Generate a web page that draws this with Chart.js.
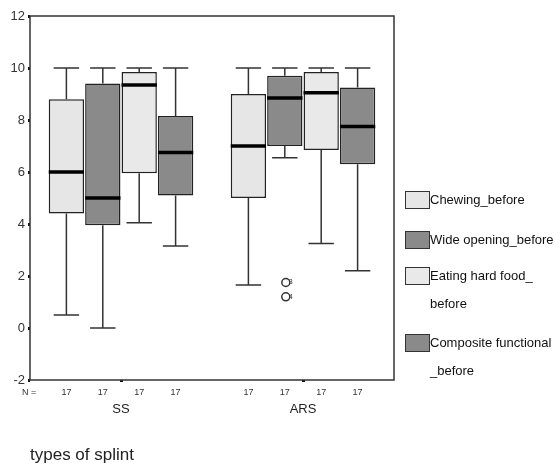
<!DOCTYPE html>
<html>
<head>
<meta charset="utf-8">
<script src="https://cdn.jsdelivr.net/npm/chart.js@4"></script>
<style>
  body { margin: 0; background: #fff; }
  #wrap { position: relative; width: 555px; height: 466px; }
  #legend { position: absolute; left: 0; top: 0; font: 13px "Liberation Sans", Arial, sans-serif; color: #111; }
  .sw { position: absolute; left: 405px; width: 23px; height: 16px; border: 1px solid #333; }
  .txt { position: absolute; left: 430px; white-space: nowrap; line-height: 14px; }
</style>
</head>
<body>
<div id="wrap">
  <canvas id="boxChart" width="555" height="466"></canvas>
  <div id="legend"></div>
</div>
<script>
// groups on the x axis
const categories = ["SS", "ARS"];
const yTicks = [-2, 0, 2, 4, 6, 8, 10, 12];

// one entry per series, first value SS, second ARS
const seriesLabels = [
  ["Chewing_before"],
  ["Wide opening_before"],
  ["Eating hard food_", "before"],
  ["Composite functional", "_before"]
];
const seriesColors = ["#e6e6e6", "#8a8a8a", "#e9e9e9", "#8a8a8a"];

const chewMin = [0.5, 1.65], chewQ1 = [4.4, 5.0], chewMed = [6.0, 7.0], chewQ3 = [8.8, 9.0], chewMax = [10, 10];
const wideMin = [0.0, 6.55], wideQ1 = [3.95, 7.0], wideMed = [5.0, 8.85], wideQ3 = [9.4, 9.7], wideMax = [10, 10];
const eatMin = [4.05, 3.25], eatQ1 = [5.95, 6.85], eatMed = [9.35, 9.05], eatQ3 = [9.85, 9.85], eatMax = [10, 10];
const compMin = [3.15, 2.2], compQ1 = [5.1, 6.3], compMed = [6.75, 7.75], compQ3 = [8.15, 9.25], compMax = [10, 10];

// outliers: [series index, group index, value, case label]
const outliers = [
  [1, 1, 1.75, "3"],
  [1, 1, 1.2, "4"]
];
const nCounts = [[17, 17], [17, 17], [17, 17], [17, 17]];

const stats = [
  { min: chewMin, q1: chewQ1, med: chewMed, q3: chewQ3, max: chewMax },
  { min: wideMin, q1: wideQ1, med: wideMed, q3: wideQ3, max: wideMax },
  { min: eatMin, q1: eatQ1, med: eatMed, q3: eatQ3, max: eatMax },
  { min: compMin, q1: compQ1, med: compMed, q3: compQ3, max: compMax }
];

const FONT = '"Liberation Sans", Arial, sans-serif';

// whiskers, medians, outliers, N row and the frame
const boxPlugin = {
  id: "boxExtras",
  afterDatasetsDraw(chart) {
    const ctx = chart.ctx;
    const y = chart.scales.y;
    const area = chart.chartArea;
    ctx.save();
    stats.forEach((s, i) => {
      const meta = chart.getDatasetMeta(i);
      meta.data.forEach((bar, j) => {
        const x = bar.x;
        const w = bar.width;
        const cap = w * 0.36;
        const yMax = y.getPixelForValue(s.max[j]);
        const yMin = y.getPixelForValue(s.min[j]);
        ctx.strokeStyle = "#333";
        ctx.lineWidth = 1.5;
        ctx.beginPath();
        ctx.moveTo(x, y.getPixelForValue(s.q3[j]));
        ctx.lineTo(x, yMax);
        ctx.moveTo(x - cap, yMax);
        ctx.lineTo(x + cap, yMax);
        ctx.moveTo(x, y.getPixelForValue(s.q1[j]));
        ctx.lineTo(x, yMin);
        ctx.moveTo(x - cap, yMin);
        ctx.lineTo(x + cap, yMin);
        ctx.stroke();
        // median
        ctx.strokeStyle = "#000";
        ctx.lineWidth = 3.5;
        ctx.beginPath();
        ctx.moveTo(x - w / 2, y.getPixelForValue(s.med[j]));
        ctx.lineTo(x + w / 2, y.getPixelForValue(s.med[j]));
        ctx.stroke();
        // N row
        ctx.fillStyle = "#333";
        ctx.font = "9px " + FONT;
        ctx.textAlign = "center";
        ctx.textBaseline = "middle";
        ctx.fillText(String(nCounts[i][j]), x, area.bottom + 13);
      });
    });
    outliers.forEach(o => {
      const bar = chart.getDatasetMeta(o[0]).data[o[1]];
      const py = y.getPixelForValue(o[2]);
      ctx.strokeStyle = "#333";
      ctx.lineWidth = 1.5;
      ctx.beginPath();
      ctx.arc(bar.x + 1, py, 4, 0, Math.PI * 2);
      ctx.stroke();
      ctx.fillStyle = "#333";
      ctx.font = "7px " + FONT;
      ctx.textAlign = "left";
      ctx.textBaseline = "middle";
      ctx.fillText(o[3], bar.x + 4, py);
    });
    ctx.fillStyle = "#333";
    ctx.font = "9px " + FONT;
    ctx.textAlign = "left";
    ctx.fillText("N =", area.left - 8, area.bottom + 13);
    // plot frame
    ctx.strokeStyle = "#333";
    ctx.lineWidth = 1.5;
    ctx.strokeRect(area.left, area.top, area.right - area.left, area.bottom - area.top);
    ctx.restore();
  }
};

const datasets = stats.map((s, i) => ({
  label: seriesLabels[i].join(""),
  data: categories.map((c, j) => [s.q1[j], s.q3[j]]),
  backgroundColor: seriesColors[i],
  borderColor: "#222",
  borderWidth: 1.5,
  borderSkipped: false,
  barPercentage: 0.97,
  categoryPercentage: 0.8
}));

new Chart(document.getElementById("boxChart"), {
  type: "bar",
  data: { labels: categories, datasets: datasets },
  options: {
    responsive: false,
    animation: false,
    layout: { padding: { top: 16, right: 161, left: 0, bottom: 0 } },
    plugins: { legend: { display: false }, tooltip: { enabled: false } },
    scales: {
      x: {
        afterFit: s => { s.height = 86; },
        grid: { offset: false, drawOnChartArea: false, tickLength: 2, tickWidth: 3, color: "#111" },
        border: { display: false },
        ticks: { padding: 20, color: "#222", font: { size: 13, family: FONT } },
        title: {
          display: true, text: "types of splint", align: "start",
          color: "#222", font: { size: 17, family: FONT }, padding: { top: 0, bottom: 0 }
        }
      },
      y: {
        min: -2, max: 12,
        afterFit: s => { s.width = 30; },
        afterBuildTicks: s => { s.ticks = yTicks.map(v => ({ value: v })); },
        grid: { drawOnChartArea: false, tickLength: 2, tickWidth: 3, color: "#111" },
        border: { display: false },
        ticks: { padding: 3, color: "#333", font: { size: 13, family: FONT } }
      }
    }
  },
  plugins: [boxPlugin]
});

// legend built from the series
const swTops = [191, 231, 267, 334];
const legend = document.getElementById("legend");
seriesLabels.forEach((lines, i) => {
  const sw = document.createElement("div");
  sw.className = "sw";
  sw.style.top = swTops[i] + "px";
  sw.style.background = seriesColors[i];
  legend.appendChild(sw);
  lines.forEach((t, k) => {
    const d = document.createElement("div");
    d.className = "txt";
    d.textContent = t;
    d.style.top = (swTops[i] + 2 + k * 28) + "px";
    legend.appendChild(d);
  });
});
</script>
</body>
</html>
